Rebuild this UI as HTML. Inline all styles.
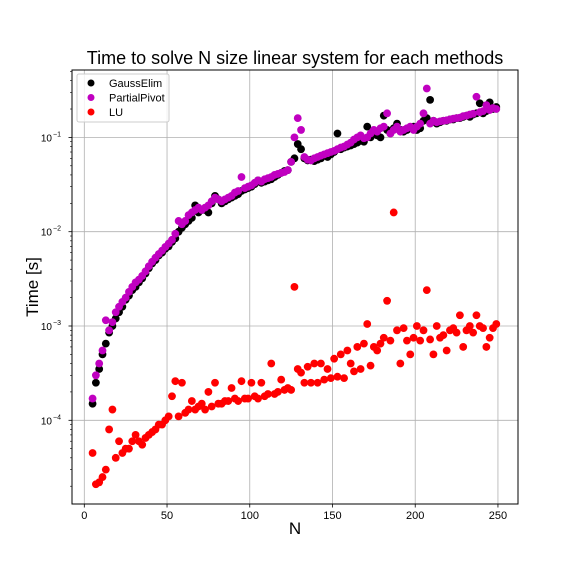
<!DOCTYPE html>
<html><head><meta charset="utf-8"><style>
body{margin:0;background:#fff;}
svg{display:block;font-family:"Liberation Sans",sans-serif;}
</style></head><body>
<svg id="chart" width="576" height="576" viewBox="0 0 576 576">
<rect x="0" y="0" width="576" height="576" fill="#fff"/>
<text x="295" y="64" font-size="18" text-anchor="middle" fill="#000">Time to solve N size linear system for each methods</text>
<g id="grid"></g>
<g id="ticks"></g>
<g id="marks"></g>
<rect x="72" y="70" width="446" height="434" fill="none" stroke="#000" stroke-width="1"/>
<text x="295" y="534" font-size="17" text-anchor="middle">N</text>
<text x="38" y="287" font-size="17" text-anchor="middle" transform="rotate(-90 38 287)">Time [s]</text>
<g>
<rect x="77" y="74" width="92" height="48" rx="2" fill="#fff" fill-opacity="0.8" stroke="#ccc"/>
<circle cx="91" cy="83" r="3.5" fill="#000"/>
<text x="109" y="87" font-size="11">GaussElim</text>
<circle cx="91" cy="97.5" r="3.5" fill="#c000c0"/>
<text x="109" y="101.5" font-size="11">PartialPivot</text>
<circle cx="91" cy="112" r="3.5" fill="#ff0000"/>
<text x="109" y="116" font-size="11">LU</text>
</g>
</svg>
<script>
// N values (5..249 step 2)
const nValues = [5,7,9,11,13,15,17,19,21,23,25,27,29,31,33,35,37,39,41,43,45,47,49,51,53,55,57,59,61,63,65,67,69,71,73,75,77,79,81,83,85,87,89,91,93,95,97,99,101,103,105,107,109,111,113,115,117,119,121,123,125,127,129,131,133,135,137,139,141,143,145,147,149,151,153,155,157,159,161,163,165,167,169,171,173,175,177,179,181,183,185,187,189,191,193,195,197,199,201,203,205,207,209,211,213,215,217,219,221,223,225,227,229,231,233,235,237,239,241,243,245,247,249];
// times in milliseconds
const gaussMs = [0.15,0.25,0.35,0.5,0.65,0.85,1.0,1.2,1.4,1.6,1.9,2.1,2.4,2.6,2.9,3.2,3.6,4.1,4.6,5.0,5.6,6.0,6.6,7.0,7.8,8.5,10,11,12,13,14,19,16,17,17,16,20,24,22,20,21,22,23,24,25,27,28,29,30,32,35,33,34,35,36,38,40,42,44,45,55,60,85,75,60,57,58,56,58,60,65,62,66,70,110,75,78,80,82,85,88,92,90,130,100,110,105,100,170,120,110,125,140,120,115,120,125,130,120,125,150,160,250,150,140,145,150,150,155,155,160,160,165,170,165,175,180,230,180,190,235,200,210];
const pivotMs = [0.17,0.3,0.4,0.55,1.15,0.9,1.1,1.4,1.6,1.8,2.0,2.3,2.6,2.9,3.1,3.4,3.8,4.3,4.8,5.3,5.8,6.3,6.9,7.5,8.2,9.5,13,12,13,15,16,17,18,17,18,19,21,23,22,21,22,23,24,26,27,38,29,30,31,33,35,34,36,37,38,40,41,42,43,45,55,100,160,120,62,58,57,60,62,64,66,68,70,72,75,78,80,84,88,95,100,105,98,100,110,120,115,125,130,180,110,120,130,115,120,125,130,120,130,140,180,330,140,150,145,148,150,152,155,158,160,162,168,170,175,178,270,185,190,220,195,205,200];
const luMs = [0.045,0.021,0.022,0.025,0.03,0.08,0.13,0.04,0.06,0.045,0.05,0.05,0.06,0.07,0.06,0.055,0.065,0.07,0.075,0.08,0.09,0.09,0.1,0.11,0.18,0.26,0.11,0.25,0.12,0.13,0.16,0.13,0.14,0.15,0.13,0.2,0.14,0.25,0.15,0.15,0.16,0.16,0.22,0.17,0.16,0.26,0.17,0.17,0.25,0.18,0.17,0.25,0.18,0.19,0.4,0.19,0.2,0.27,0.21,0.22,0.21,2.6,0.35,0.32,0.25,0.37,0.25,0.4,0.25,0.4,0.27,0.35,0.28,0.45,0.29,0.5,0.28,0.55,0.4,0.33,0.6,0.35,0.65,1.05,0.38,0.6,0.55,0.65,0.75,1.85,0.7,16,0.9,0.4,0.95,0.7,0.5,0.75,1.0,0.7,0.9,2.4,0.72,0.5,1.0,0.75,0.8,0.55,0.9,0.95,0.85,1.3,0.6,0.9,1.0,0.85,1.3,1.0,0.95,0.6,0.75,0.95,1.05];
const xTicks = [0,50,100,150,200,250];
const yTickExps = [-4,-3,-2,-1];

const NS = 'http://www.w3.org/2000/svg';
const L = 72, R = 518, T = 70, B = 504;
function xScale(n){ return 84.3 + n * 1.6546; }
function yScale(sec){ return 326 - (Math.log10(sec) + 3) * 94.3; }
function mk(tag, attrs, parent){ const e = document.createElementNS(NS, tag); for (const k in attrs) e.setAttribute(k, attrs[k]); parent.appendChild(e); return e; }
const grid = document.getElementById('grid'), ticks = document.getElementById('ticks'), marks = document.getElementById('marks');

xTicks.forEach(v => {
  const x = xScale(v);
  const g = mk('line', {x1:x, x2:x, y1:T, y2:B, stroke:'#b0b0b0', 'stroke-width':0.8}, grid);
  
  
  const t = mk('line', {x1:x, x2:x, y1:B, y2:B+3.5, stroke:'#000', 'stroke-width':0.8}, ticks);
  
  
  const lb = mk('text', {x:x, y:B+15, 'font-size':11, 'text-anchor':'middle'}, ticks);
  lb.textContent = v;
  
  
});
yTickExps.forEach(e => {
  const y = yScale(Math.pow(10, e));
  const g = mk('line', {x1:L, x2:R, y1:y, y2:y, stroke:'#b0b0b0', 'stroke-width':0.8}, grid);
  
  
  const t = mk('line', {x1:L-3.5, x2:L, y1:y, y2:y, stroke:'#000', 'stroke-width':0.8}, ticks);
  
  
  const lb = mk('text', {x:L-20, y:y+4, 'font-size':10, 'text-anchor':'end'}, ticks);
  lb.textContent = '10';
  
  
  const sp = mk('text', {x:L-19, y:y-1, 'font-size':7, 'text-anchor':'start'}, ticks);
  sp.textContent = '\u2212' + (-e);
  
  
});
for (let e = -5; e <= -1; e++) for (let m = 2; m <= 9; m++) {
  const y = yScale(m * Math.pow(10, e));
  if (y < T || y > B) continue;
  const t = mk('line', {x1:L-2, x2:L, y1:y, y2:y, stroke:'#000', 'stroke-width':0.6}, ticks);
  
  
}
function series(arr, color, name){
  arr.forEach((ms, i) => {
    const c = mk('circle', {cx:xScale(nValues[i]), cy:yScale(ms/1000), r:3.9, fill:color}, marks);
    
    
  });
}
series(gaussMs, '#000000', 'gausselim-point');
series(pivotMs, '#c000c0', 'partialpivot-point');
series(luMs, '#ff0000', 'lu-point');
</script>
</body></html>
